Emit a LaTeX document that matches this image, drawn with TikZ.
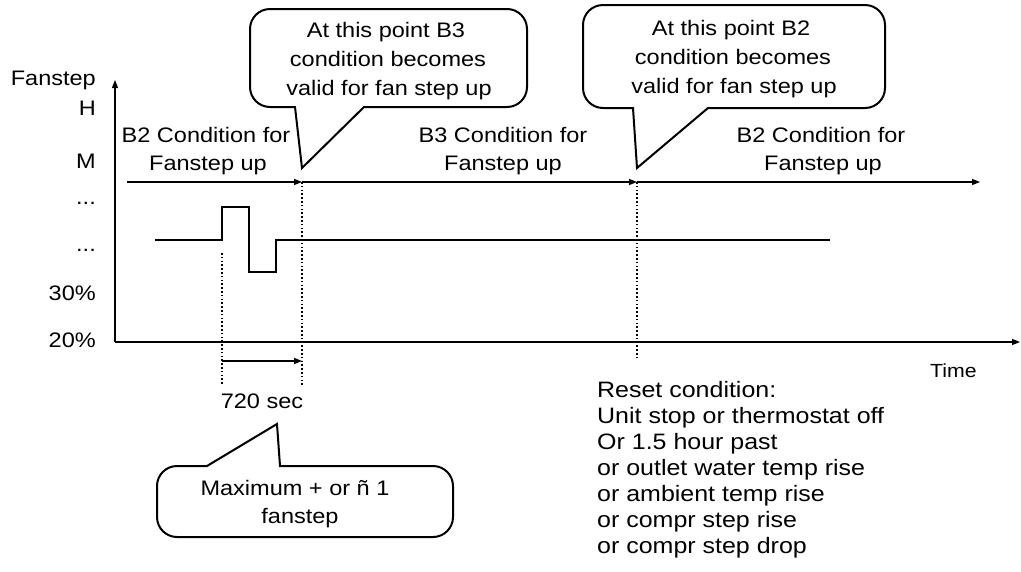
\documentclass[tikz,border=0pt]{standalone}
\usepackage{fontspec}
\setmainfont{Liberation Sans}[FakeStretch=1.12]
\usetikzlibrary{arrows.meta}
\begin{document}
\begin{tikzpicture}[x=1pt,y=1pt,
  lbl/.style={inner sep=0pt, font=\fontsize{21}{24}\selectfont, anchor=base},
  lble/.style={lbl, anchor=base east},
  rst/.style={inner sep=0pt, font=\fontsize{22.3}{26}\selectfont, anchor=base west},
  axisarrow/.style={line width=1.3pt, -{Triangle[length=8pt,width=6pt]}},
  timearrow/.style={line width=1.2pt, -{Triangle[length=8pt,width=6pt]}},
  sig/.style={line width=2pt, line join=miter},
  dotline/.style={line width=1.6pt, dash pattern=on 1.6pt off 2.2pt},
  callout/.style={line width=2pt, fill=white, line join=miter}
]
\useasboundingbox (0,0) rectangle (1021,-571);

% axes
\coordinate (O) at (115,-342);
\coordinate (Ytop) at (115,-80);
\coordinate (Xend) at (1020,-342);
\draw[axisarrow] (O) -- (Ytop);
\draw[axisarrow] (O) -- (Xend);

% y labels
\node[lble] (fan) at (96,-85) {Fanstep};
\node[lble] (yH) at (96,-115) {H};
\node[lble] (yM) at (96,-168) {M};
\node[lble] (yd1) at (96,-204) {...};
\node[lble] (yd2) at (96,-251) {...};
\node[lble] (y30) at (96,-300) {30\%};
\node[lble] (y20) at (96,-347) {20\%};
\node[lbl, anchor=base west, font=\fontsize{19}{22}\selectfont] (time) at (930,-377) {Time};

% condition timeline
\coordinate (T0) at (127,-182);
\coordinate (T1) at (302,-182);
\coordinate (T2) at (637,-182);
\coordinate (T3) at (980,-182);
\draw[timearrow] (T0) -- (T1);
\draw[timearrow] (T1) -- (T2);
\draw[timearrow] (T2) -- (T3);

\node[lbl] (c1a) at (206,-142) {B2 Condition for};
\node[lbl] (c1b) at (208,-170) {Fanstep up};
\node[lbl] (c2a) at (503,-142) {B3 Condition for};
\node[lbl] (c2b) at (503,-170) {Fanstep up};
\node[lbl] (c3a) at (821,-142) {B2 Condition for};
\node[lbl] (c3b) at (823,-170) {Fanstep up};

% dotted markers
\coordinate (D0t) at (222,-253);
\coordinate (D0b) at (222,-385);
\coordinate (D1b) at (302,-385);
\coordinate (D2b) at (637,-360);
\draw[dotline] (T1) -- (D1b);
\draw[dotline] (D0t) -- (D0b);
\draw[dotline] (T2) -- (D2b);

% signal
\draw[sig] (155,-240) -- (222,-240) -- (222,-207) -- (249,-207) -- (249,-272)
  -- (276,-272) -- (276,-240) -- (830,-240);

% 720 sec
\coordinate (M0) at (222,-361);
\coordinate (M1) at (302,-361);
\draw[timearrow] (M0) -- (M1);
\node[lbl] (sec) at (262,-408) {720 sec};

% callout 1
\draw[callout] (270,-9) -- (507,-9) arc[start angle=90,end angle=0,radius=20]
  -- (527,-87) arc[start angle=0,end angle=-90,radius=20]
  -- (364,-107) -- (302,-168) -- (295,-107) -- (270,-107)
  arc[start angle=270,end angle=180,radius=20] -- (250,-29)
  arc[start angle=180,end angle=90,radius=20] -- cycle;
\node[lbl] (k1a) at (386,-37) {At this point B3};
\node[lbl] (k1b) at (388,-66) {condition becomes};
\node[lbl] (k1c) at (389,-95) {valid for fan step up};

% callout 2
\draw[callout] (603,-5) -- (865,-5) arc[start angle=90,end angle=0,radius=20]
  -- (885,-88) arc[start angle=0,end angle=-90,radius=20]
  -- (708,-108) -- (637,-168) -- (633,-108) -- (603,-108)
  arc[start angle=270,end angle=180,radius=20] -- (583,-25)
  arc[start angle=180,end angle=90,radius=20] -- cycle;
\node[lbl] (k2a) at (731,-35) {At this point B2};
\node[lbl] (k2b) at (733,-64) {condition becomes};
\node[lbl] (k2c) at (734,-93) {valid for fan step up};

% callout 3
\draw[callout] (177,-466) -- (207,-466) -- (277,-424) -- (280,-466)
  -- (433,-466) arc[start angle=90,end angle=0,radius=20]
  -- (453,-517) arc[start angle=0,end angle=-90,radius=20]
  -- (177,-537) arc[start angle=270,end angle=180,radius=20]
  -- (157,-486) arc[start angle=180,end angle=90,radius=20] -- cycle;
\node[lbl] (k3a) at (295,-495) {Maximum + or ñ 1};
\node[lbl] (k3b) at (300,-523) {fanstep};

% reset text
\node[rst] (r1) at (597,-397) {Reset condition:};
\node[rst] (r2) at (597,-423) {Unit stop or thermostat off};
\node[rst] (r3) at (597,-449) {Or 1.5 hour past};
\node[rst] (r4) at (597,-475) {or outlet water temp rise};
\node[rst] (r5) at (597,-501) {or ambient temp rise};
\node[rst] (r6) at (597,-527) {or compr step rise};
\node[rst] (r7) at (597,-553) {or compr step drop};
\end{tikzpicture}
\end{document}
